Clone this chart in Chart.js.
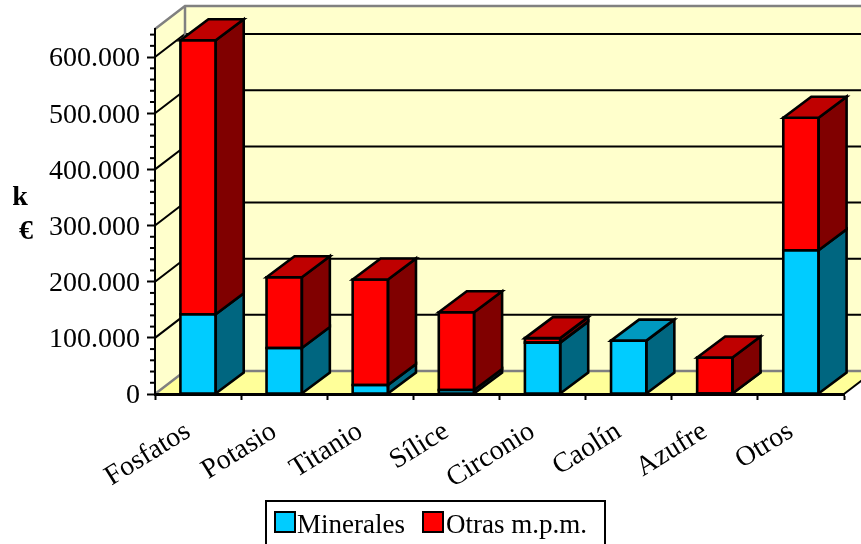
<!DOCTYPE html>
<html><head><meta charset="utf-8">
<style>html,body{margin:0;padding:0;background:#fff}canvas{display:block}</style>
<script src="https://cdn.jsdelivr.net/npm/chart.js@4"></script>
</head><body><canvas id="c" width="861" height="544"></canvas>
<script>
const categories = ["Fosfatos","Potasio","Titanio","Sílice","Circonio","Caolín","Azufre","Otros"];
const minerales = [142000,82000,16000,7000,91500,95000,1000,256000];
const otras = [488000,126000,188000,138500,8000,0,64000,236000];
const majorTicks = [0,100000,200000,300000,400000,500000,600000];
const minorTicks = [20000,40000,60000,80000,120000,140000,160000,180000,220000,240000,260000,280000,320000,340000,360000,380000,420000,440000,460000,480000,520000,540000,560000,580000,620000,640000];

const FONT = '"Liberation Serif"';
const DX = 30, DY = 23, BDX = 28, BDY = 21, LW = 2.6;
const styles = [
  {front:'#00CCFF', side:'#006680', top:'#0099BF'},
  {front:'#FF0000', side:'#800000', top:'#BF0000'}
];
const poly = (ctx, pts, fill, stroke, lw) => {
  ctx.beginPath();
  pts.forEach((p,i)=> i ? ctx.lineTo(p[0],p[1]) : ctx.moveTo(p[0],p[1]));
  ctx.closePath();
  if (fill){ctx.fillStyle=fill;ctx.fill();}
  if (stroke){ctx.strokeStyle=stroke;ctx.lineWidth=lw;ctx.lineJoin='miter';ctx.stroke();}
};
const line = (ctx, pts, color, lw) => {
  ctx.beginPath();
  pts.forEach((p,i)=> i ? ctx.lineTo(p[0],p[1]) : ctx.moveTo(p[0],p[1]));
  ctx.strokeStyle=color;ctx.lineWidth=lw;ctx.stroke();
};
const box3d = {
  id:'box3d',
  beforeDraw(chart){
    const ctx=chart.ctx,a=chart.chartArea,y=chart.scales.y;
    const l=a.left,r=a.right,t=a.top,b=a.bottom;
    ctx.save();
    poly(ctx,[[l,t],[l+DX,t-DY],[l+DX,b-DY],[l,b]],'#FFFFCC');
    poly(ctx,[[l+DX,t-DY],[r+DX,t-DY],[r+DX,b-DY],[l+DX,b-DY]],'#FFFFCC');
    poly(ctx,[[l,b],[l+DX,b-DY],[r+DX,b-DY],[r,b]],'#FFFF99');
    majorTicks.forEach(v=>{
      if(v===0)return;
      const p=y.getPixelForValue(v);
      line(ctx,[[l,p],[l+DX,p-DY],[r+DX,p-DY]],'#000',2);
    });
    line(ctx,[[l,b],[l+DX,b-DY],[r+DX,b-DY]],'#808080',2.5);
    line(ctx,[[l,t],[l+DX,t-DY],[r+DX,t-DY]],'#808080',2.5);
    line(ctx,[[l+DX,t-DY],[l+DX,b-DY]],'#808080',2.5);
    line(ctx,[[r,b],[r+DX,b-DY]],'#000',2);
    ctx.restore();
  },
  afterDatasetsDraw(chart){
    const ctx=chart.ctx;
    ctx.save();
    const m0=chart.getDatasetMeta(0).data,m1=chart.getDatasetMeta(1).data;
    categories.forEach((_,i)=>{
      const segs=[m0[i],m1[i]];
      let topSeg=-1;
      segs.forEach((e,k)=>{
        const v=k?otras[i]:minerales[i];
        if(!v)return;
        topSeg=k;
        const xl=e.x-e.width/2,xr=e.x+e.width/2, yt=e.y, yb=e.base;
        poly(ctx,[[xr,yt],[xr+BDX,yt-BDY],[xr+BDX,yb-BDY],[xr,yb]],styles[k].side,'#000',LW);
        poly(ctx,[[xl,yt],[xr,yt],[xr,yb],[xl,yb]],null,'#000',LW);
      });
      const e=segs[topSeg],xl=e.x-e.width/2,xr=e.x+e.width/2,yt=e.y;
      poly(ctx,[[xl,yt],[xl+BDX,yt-BDY],[xr+BDX,yt-BDY],[xr,yt]],styles[topSeg].top,'#000',LW);
    });
    ctx.restore();
  },
  afterDraw(chart){
    const ctx=chart.ctx,y=chart.scales.y,l=chart.chartArea.left;
    ctx.save();
    minorTicks.forEach(v=>{
      const p=y.getPixelForValue(v);
      line(ctx,[[l-5,p],[l,p]],'#000',2);
    });
    ctx.fillStyle='#000';
    ctx.textAlign='center';ctx.textBaseline='alphabetic';
    ctx.font='bold 28px '+FONT;
    ctx.fillText('k',20,205);
    ctx.fillText('€',26,239);
    // legend
    ctx.lineWidth=2;ctx.strokeStyle='#000';
    ctx.strokeRect(266,501,339,50);
    ctx.font='27px '+FONT;ctx.textAlign='left';
    const items=[[275,297,0],[423,446,1]];
    items.forEach(([sx,tx,k])=>{
      const ds=chart.data.datasets[k];
      ctx.fillStyle=ds.backgroundColor;
      ctx.fillRect(sx,512,20,20);
      ctx.strokeRect(sx,512,20,20);
      ctx.fillStyle='#000';
      ctx.fillText(ds.label,tx,533);
    });
    ctx.restore();
  }
};
new Chart(document.getElementById('c'),{
  type:'bar',
  data:{labels:categories,datasets:[
    {label:'Minerales',data:minerales,backgroundColor:styles[0].front,borderWidth:0},
    {label:'Otras m.p.m.',data:otras,backgroundColor:styles[1].front,borderWidth:0}
  ]},
  options:{
    responsive:false,animation:false,
    layout:{padding:{top:29,right:17,left:0,bottom:0}},
    categoryPercentage:1,barPercentage:0.41,
    plugins:{legend:{display:false},tooltip:{enabled:false}},
    scales:{
      x:{stacked:true,
        afterFit(s){s.height=150;},
        grid:{drawOnChartArea:false,drawTicks:true,tickLength:6,tickColor:'#000',tickWidth:2,offset:true},
        border:{color:'#000',width:3},
        ticks:{color:'#000',font:{family:FONT,size:28},minRotation:32,maxRotation:32,padding:15,labelOffset:-10,autoSkip:false}
      },
      y:{stacked:true,min:0,max:650000,
        afterFit(s){s.width=155;},
        afterBuildTicks(s){s.ticks=majorTicks.map(value=>({value}));},
        grid:{drawOnChartArea:false,drawTicks:true,tickLength:8,tickColor:'#000',tickWidth:2},
        border:{color:'#000',width:2},
        ticks:{autoSkip:false,color:'#000',padding:7,labelOffset:2,font:{family:FONT,size:28},
          callback:v=>String(v).replace(/\B(?=(\d{3})+$)/g,'.')}
      }
    }
  },
  plugins:[box3d]
});
</script></body></html>
